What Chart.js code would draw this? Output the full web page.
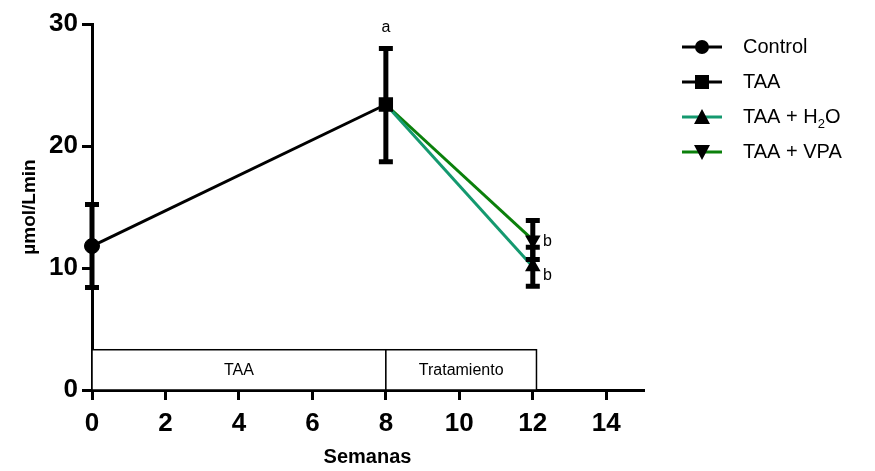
<!DOCTYPE html>
<html>
<head>
<meta charset="utf-8">
<script src="https://cdn.jsdelivr.net/npm/chart.js@4"></script>
<style>
  html, body { margin: 0; padding: 0; background: #fff; }
  #wrap { width: 875px; height: 471px; }
</style>
</head>
<body>
<div id="wrap"><canvas id="chart" width="875" height="471"></canvas></div>
<script>
// Data
const seriesLabels = ['Control', 'TAA', 'TAA + H2O', 'TAA + VPA'];
const seriesColors = ['#000000', '#000000', '#14996f', '#0b800b'];
const controlX = [0];
const controlY = [11.8];
const controlLow = [8.4];
const controlHigh = [15.2];
const taaX = [0, 8];
const taaY = [11.8, 23.4];
const taaLow = [null, 18.7];
const taaHigh = [null, 28.0];
const h2oX = [8, 12];
const h2oY = [23.4, 10.1];
const h2oLow = [null, 8.5];
const h2oHigh = [null, 11.7];
const vpaX = [8, 12];
const vpaY = [23.4, 12.3];
const vpaLow = [null, 10.7];
const vpaHigh = [null, 13.9];
const xTicks = [0, 2, 4, 6, 8, 10, 12, 14];
const yTicks = [0, 10, 20, 30];
const phases = [
    { label: 'TAA', from: 0, to: 8 },
    { label: 'Tratamiento', from: 8, to: 12.1 }
];
const phaseTop = 3.3;
const letters = [
    { text: 'a', x: 8, y: 29.7 },
    { text: 'b', x: 12.4, y: 12.2 },
    { text: 'b', x: 12.4, y: 9.4 }
];

const FONT = '"Liberation Sans", Arial, sans-serif';

function points(xs, ys) {
    return xs.map((x, i) => ({ x: x, y: ys[i] }));
}

// Error bars, drawn from the low/high arrays through the scales
const errorBars = {
    id: 'errorBars',
    afterDatasetsDraw(chart) {
        const ctx = chart.ctx;
        const xs = chart.scales.x, ys = chart.scales.y;
        ctx.save();
        ctx.strokeStyle = '#000';
        ctx.lineWidth = 5;
        chart.data.datasets.forEach(ds => {
            if (!ds.errLow) return;
            ds.data.forEach((p, i) => {
                if (ds.errLow[i] == null) return;
                const px = xs.getPixelForValue(p.x);
                const lo = ys.getPixelForValue(ds.errLow[i]);
                const hi = ys.getPixelForValue(ds.errHigh[i]);
                ctx.beginPath();
                ctx.moveTo(px, lo); ctx.lineTo(px, hi);
                ctx.moveTo(px - 7, lo); ctx.lineTo(px + 7, lo);
                ctx.moveTo(px - 7, hi); ctx.lineTo(px + 7, hi);
                ctx.stroke();
            });
        });
        ctx.restore();
    }
};

// Phase boxes along the bottom, significance letters and the legend
const extras = {
    id: 'extras',
    beforeDatasetsDraw(chart) {
        const ctx = chart.ctx;
        const xs = chart.scales.x, ys = chart.scales.y;
        const y0 = ys.getPixelForValue(0), y1 = ys.getPixelForValue(phaseTop);
        ctx.save();
        ctx.strokeStyle = '#000';
        ctx.lineWidth = 1.5;
        ctx.font = '16px ' + FONT;
        ctx.textAlign = 'center';
        ctx.textBaseline = 'middle';
        phases.forEach(ph => {
            const a = xs.getPixelForValue(ph.from), b = xs.getPixelForValue(ph.to);
            ctx.fillStyle = '#fff';
            ctx.fillRect(a, y1, b - a, y0 - y1);
            ctx.strokeRect(a, y1, b - a, y0 - y1);
            ctx.fillStyle = '#000';
            ctx.fillText(ph.label, (a + b) / 2, (y0 + y1) / 2 + 1);
        });
        ctx.restore();
    },
    afterDraw(chart) {
        const ctx = chart.ctx;
        const xs = chart.scales.x, ys = chart.scales.y;
        ctx.save();
        ctx.fillStyle = '#000';
        ctx.font = '16px ' + FONT;
        ctx.textAlign = 'center';
        ctx.textBaseline = 'middle';
        letters.forEach(l => {
            ctx.fillText(l.text, xs.getPixelForValue(l.x), ys.getPixelForValue(l.y));
        });

        // legend on the right
        const lx = 682, ly = 47, gap = 35;
        const styles = ['circle', 'rect', 'triangle', 'triangleDown'];
        chart.data.datasets.forEach((ds, i) => {
            const y = ly + i * gap;
            ctx.strokeStyle = seriesColors[i];
            ctx.lineWidth = 3;
            ctx.beginPath();
            ctx.moveTo(lx, y); ctx.lineTo(lx + 40, y);
            ctx.stroke();
            ctx.fillStyle = '#000';
            const cx = lx + 20;
            ctx.beginPath();
            if (styles[i] === 'circle') {
                ctx.arc(cx, y, 7, 0, Math.PI * 2);
            } else if (styles[i] === 'rect') {
                ctx.rect(cx - 7, y - 7, 14, 14);
            } else if (styles[i] === 'triangle') {
                ctx.moveTo(cx, y - 8); ctx.lineTo(cx + 8, y + 7); ctx.lineTo(cx - 8, y + 7);
            } else {
                ctx.moveTo(cx, y + 8); ctx.lineTo(cx + 8, y - 7); ctx.lineTo(cx - 8, y - 7);
            }
            ctx.fill();

            ctx.font = '20px ' + FONT;
            ctx.textAlign = 'left';
            ctx.textBaseline = 'middle';
            let tx = lx + 61;
            if (ds.label === 'TAA + H2O') {
                ctx.fillText('TAA + H', tx, y);
                tx += ctx.measureText('TAA + H').width;
                ctx.font = '13px ' + FONT;
                ctx.fillText('2', tx, y + 7);
                tx += ctx.measureText('2').width;
                ctx.font = '20px ' + FONT;
                ctx.fillText('O', tx, y);
            } else {
                ctx.fillText(ds.label, tx, y);
            }
        });
        ctx.restore();
    }
};

const ctx = document.getElementById('chart').getContext('2d');
new Chart(ctx, {
    type: 'line',
    data: {
        datasets: [
            {
                label: seriesLabels[0],
                data: points(controlX, controlY),
                errLow: controlLow, errHigh: controlHigh,
                borderColor: seriesColors[0], backgroundColor: '#000',
                showLine: false, pointStyle: 'circle', pointRadius: 7.5, clip: false, order: 1
            },
            {
                label: seriesLabels[1],
                data: points(taaX, taaY),
                errLow: taaLow, errHigh: taaHigh,
                borderColor: seriesColors[1], backgroundColor: '#000', borderWidth: 3,
                pointStyle: 'rect', pointRadius: [0, 8], clip: false, order: 2
            },
            {
                label: seriesLabels[2],
                data: points(h2oX, h2oY),
                errLow: h2oLow, errHigh: h2oHigh,
                borderColor: seriesColors[2], backgroundColor: '#000', borderWidth: 3,
                pointBorderColor: '#000', pointStyle: 'triangle', pointRadius: [0, 6], clip: false, order: 3
            },
            {
                label: seriesLabels[3],
                data: points(vpaX, vpaY),
                errLow: vpaLow, errHigh: vpaHigh,
                borderColor: seriesColors[3], backgroundColor: '#000', borderWidth: 3,
                pointBorderColor: '#000', pointStyle: 'triangle', pointRotation: 180,
                pointRadius: [0, 6], clip: false, order: 4
            }
        ]
    },
    options: {
        responsive: false,
        animation: false,
        layout: { padding: { top: 24, right: 232, left: 14, bottom: 0 } },
        plugins: {
            legend: { display: false },
            tooltip: { enabled: false }
        },
        scales: {
            x: {
                type: 'linear',
                min: 0,
                max: 15,
                afterBuildTicks: axis => { axis.ticks = xTicks.map(v => ({ value: v })); },
                afterFit: scale => { scale.height = 81; },
                border: { color: '#000', width: 3 },
                grid: { drawOnChartArea: false, color: '#000', lineWidth: 3, tickLength: 10 },
                ticks: {
                    color: '#000', padding: 8,
                    font: { family: FONT, size: 26, weight: 'bold' }
                },
                title: {
                    display: true, text: 'Semanas', color: '#000', padding: { top: 0, bottom: 2 },
                    font: { family: FONT, size: 20, weight: 'bold' }
                }
            },
            y: {
                min: 0,
                max: 30,
                afterBuildTicks: axis => { axis.ticks = yTicks.map(v => ({ value: v })); },
                afterFit: scale => { scale.width = 78; },
                border: { color: '#000', width: 3 },
                grid: { drawOnChartArea: false, color: '#000', lineWidth: 3, tickLength: 10 },
                ticks: {
                    color: '#000', padding: 4,
                    font: { family: FONT, size: 26, weight: 'bold' }
                },
                title: {
                    display: true, text: 'µmol/Lmin', color: '#000', padding: { bottom: 0 },
                    font: { family: FONT, size: 19, weight: 'bold' }
                }
            }
        }
    },
    plugins: [extras, errorBars]
});
</script>
</body>
</html>
